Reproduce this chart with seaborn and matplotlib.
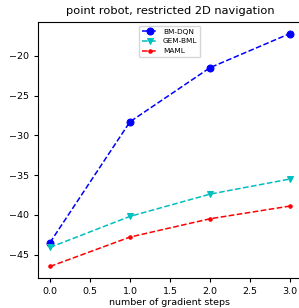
import matplotlib
matplotlib.use('Agg')
import matplotlib.pyplot as plt
import seaborn as sns
import pandas as pd

steps = [0, 1, 2, 3]
bm_dqn = [-43.5, -28.3, -21.5, -17.2]
gem_bml = [-44.1, -40.2, -37.4, -35.5]
maml = [-46.5, -42.8, -40.5, -38.9]

fig = plt.figure(figsize=(2.99, 3.08), dpi=100)
ax = fig.add_axes([0.127, 0.097, 0.883, 0.832])

sns.lineplot(x=steps, y=bm_dqn, ax=ax, color='b', linestyle='--', marker='o',
             markersize=5, markeredgecolor='b', label='BM-DQN', linewidth=1.1)
sns.lineplot(x=steps, y=gem_bml, ax=ax, color='c', linestyle='--', marker='v',
             markersize=5, markeredgecolor='c', label='GEM-BML', linewidth=1.1)
sns.lineplot(x=steps, y=maml, ax=ax, color='r', linestyle='--', marker='.',
             markersize=5, markeredgecolor='r', label='MAML', linewidth=1.1)

ax.set_title('point robot, restricted 2D navigation', fontsize=8.2)
ax.set_xlabel('number of gradient steps', fontsize=6.8, labelpad=1.5)
ax.tick_params(labelsize=6.8, width=0.8, length=3)
for s in ax.spines.values():
    s.set_linewidth(0.8)
ax.legend(loc='upper center', fontsize=5.3)

fig.savefig('out.png', dpi=100)
